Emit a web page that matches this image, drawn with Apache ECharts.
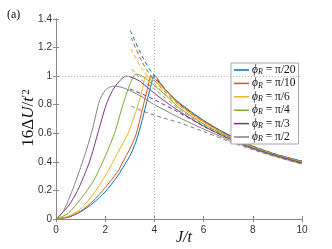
<!DOCTYPE html>
<html><head><meta charset="utf-8">
<script src="https://cdn.jsdelivr.net/npm/echarts@6/dist/echarts.min.js"></script>
<style>html,body{margin:0;padding:0;background:#fff}#c{width:332px;height:249px}</style>
</head><body><div id="c"></div>
<script>
// ---- data ----
const labels = ['π/20', 'π/10', 'π/6', 'π/4', 'π/3', 'π/2'];
const colors = ['#0072BD', '#D95319', '#EDB120', '#77AC30', '#7E2F8E', '#808080'];
const xTicks = [0, 2, 4, 6, 8, 10];
const yTicks = [0, 0.2, 0.4, 0.6, 0.8, 1, 1.2, 1.4];

// solid curves (J/t , 16ΔU/t'^2)
const blueX   = [0, 0.5, 1, 1.5, 2, 2.5, 2.86, 3, 3.25, 3.5, 3.75, 4.02, 4.25, 4.5, 5, 6, 7, 8, 9, 10];
const blueY   = [0, 0.012, 0.05, 0.11, 0.19, 0.30, 0.40, 0.44, 0.54, 0.69, 0.86, 1.005, 0.95, 0.895, 0.815, 0.69, 0.59, 0.51, 0.45, 0.405];
const orangeX = [0, 0.5, 1, 1.5, 2, 2.5, 2.72, 3, 3.25, 3.5, 3.7, 3.87, 4, 4.25, 4.5, 5, 6, 7, 8, 9, 10];
const orangeY = [0, 0.014, 0.055, 0.125, 0.22, 0.33, 0.40, 0.49, 0.59, 0.76, 0.90, 1.0, 0.985, 0.94, 0.895, 0.81, 0.685, 0.585, 0.507, 0.447, 0.402];
const yellowX = [0, 0.5, 1, 1.5, 2, 2.5, 2.93, 3.3, 3.5, 3.65, 3.8, 4, 4.5, 5, 6, 7, 8, 9, 10];
const yellowY = [0, 0.02, 0.07, 0.17, 0.30, 0.46, 0.60, 0.78, 0.90, 1.0, 0.99, 0.965, 0.89, 0.80, 0.68, 0.58, 0.505, 0.445, 0.40];
const greenX  = [0, 0.5, 1, 1.5, 1.9, 2.38, 2.72, 3, 3.25, 3.5, 3.75, 4, 4.5, 5, 6, 7, 8, 9, 10];
const greenY  = [0, 0.04, 0.14, 0.26, 0.40, 0.60, 0.80, 0.94, 1.015, 1.0, 0.97, 0.935, 0.86, 0.78, 0.665, 0.575, 0.5, 0.442, 0.397];
const purpleX = [0, 0.5, 0.88, 1.36, 1.7, 2.04, 2.3, 2.55, 2.85, 3.1, 3.4, 4, 4.5, 5, 6, 7, 8, 9, 10];
const purpleY = [0, 0.09, 0.2, 0.4, 0.6, 0.8, 0.9, 0.96, 1.0, 0.99, 0.965, 0.88, 0.815, 0.755, 0.65, 0.565, 0.495, 0.44, 0.392];
const grayX   = [0, 0.25, 0.5, 0.75, 1, 1.25, 1.5, 1.77, 2, 2.2, 2.4, 2.7, 3, 3.5, 4, 4.5, 5, 6, 7, 8, 9, 10];
const grayY   = [0, 0.04, 0.13, 0.24, 0.36, 0.49, 0.64, 0.83, 0.90, 0.925, 0.93, 0.92, 0.90, 0.855, 0.80, 0.755, 0.71, 0.63, 0.555, 0.49, 0.435, 0.385];

// dashed (approximate) curves
const blueDX   = [3.02, 3.5, 4, 5, 6, 7, 8, 9, 10];
const blueDY   = [1.32, 1.14, 1.0, 0.81, 0.685, 0.59, 0.51, 0.45, 0.405];
const orangeDX = [3.05, 3.5, 4, 5, 6, 7, 8, 9, 10];
const orangeDY = [1.27, 1.10, 0.97, 0.80, 0.68, 0.585, 0.507, 0.447, 0.402];
const yellowDX = [3.05, 3.5, 4, 5, 6, 7, 8, 9, 10];
const yellowDY = [1.19, 1.05, 0.945, 0.795, 0.677, 0.58, 0.505, 0.445, 0.40];
const greenDX  = [3.08, 3.5, 4, 5, 6, 7, 8, 9, 10];
const greenDY  = [1.05, 0.97, 0.91, 0.77, 0.66, 0.572, 0.5, 0.442, 0.397];
const purpleDX = [3.0, 3.5, 4, 5, 6, 7, 8, 9, 10];
const purpleDY = [0.91, 0.875, 0.835, 0.745, 0.65, 0.565, 0.495, 0.44, 0.392];
const grayDX   = [3.05, 3.5, 3.85, 4.5, 5, 6, 7, 8, 9, 10];
const grayDY   = [0.79, 0.758, 0.735, 0.70, 0.675, 0.612, 0.545, 0.485, 0.432, 0.385];

const solidX = [blueX, orangeX, yellowX, greenX, purpleX, grayX];
const solidY = [blueY, orangeY, yellowY, greenY, purpleY, grayY];
const dashX = [blueDX, orangeDX, yellowDX, greenDX, purpleDX, grayDX];
const dashY = [blueDY, orangeDY, yellowDY, greenDY, purpleDY, grayDY];

const zip = (xs, ys) => xs.map((x, i) => [x, ys[i]]);
const names = labels.map(l => 'ϕR = ' + l);

const series = [];
dashX.forEach((xs, k) => {
  series.push({
    name: 'dash' + k, type: 'line', data: zip(xs, dashY[k]), symbol: 'none', smooth: 0.3,
    lineStyle: { color: colors[k], width: 1, type: [4, 3] }, z: 2, silent: true
  });
});
solidX.forEach((xs, k) => {
  series.push({
    name: names[k], type: 'line', data: zip(xs, solidY[k]), symbol: 'none', smooth: 0.25,
    lineStyle: { color: colors[k], width: 1 }, itemStyle: { color: colors[k] }, z: 3
  });
});
series[0].markLine = {
  silent: true, symbol: 'none', label: { show: false },
  lineStyle: { color: '#b5b5b5', type: [1, 2], width: 1 },
  data: [{ xAxis: 4 }, { yAxis: 1 }]
};

const axisCommon = {
  axisLine: { show: true, lineStyle: { color: '#8a8a8a', width: 1 } },
  axisTick: { show: true, inside: true, length: 3, lineStyle: { color: '#8a8a8a' } },
  splitLine: { show: false }
};

const chart = echarts.init(document.getElementById('c'), null, { renderer: 'canvas' });
chart.setOption({
  animation: false,
  backgroundColor: '#fff',
  grid: { left: 56, right: 30, top: 19, bottom: 30 },
  xAxis: [
    Object.assign({ type: 'value', min: xTicks[0], max: xTicks[xTicks.length - 1], interval: 2, position: 'bottom',
      axisLabel: { color: '#333', fontSize: 10, fontFamily: 'Liberation Sans', margin: 6 } }, axisCommon),
    Object.assign({ type: 'value', min: 0, max: 10, interval: 2, position: 'top', axisLabel: { show: false } }, axisCommon)
  ],
  yAxis: [
    Object.assign({ type: 'value', min: yTicks[0], max: yTicks[yTicks.length - 1], interval: 0.2, position: 'left',
      axisLabel: { color: '#333', fontSize: 10, fontFamily: 'Liberation Sans', margin: 4 } }, axisCommon),
    Object.assign({ type: 'value', min: 0, max: 1.4, interval: 0.2, position: 'right', axisLabel: { show: false } }, axisCommon)
  ],
  legend: {
    data: names.map(n => ({ name: n, icon: 'rect' })),
    orient: 'vertical', left: 231, top: 63,
    itemWidth: 15, itemHeight: 1.5, itemGap: 1.4,
    padding: [1, 3, 1, 3],
    backgroundColor: '#fff', borderColor: '#a8a8a8', borderWidth: 1, borderRadius: 0,
    formatter: n => {
      const l = n.replace('ϕR = ', '');
      return '{p|ϕ}{s|R}{t| = ' + l + '}';
    },
    textStyle: {
      padding: [0, 0, 0, -2],
      rich: {
        p: { fontFamily: 'Liberation Serif', fontStyle: 'italic', fontSize: 11.5, color: '#111', lineHeight: 12 },
        s: { fontFamily: 'Liberation Serif', fontStyle: 'italic', fontSize: 8, color: '#111', verticalAlign: 'bottom', lineHeight: 9, padding: [4, 0, 0, 0] },
        t: { fontFamily: 'Liberation Serif', fontSize: 11.5, color: '#111', lineHeight: 12 }
      }
    }
  },
  graphic: [
    { type: 'text', left: 7, top: 9, style: { text: '(a)', font: '12px "Liberation Serif"', fill: '#111' } },
    { type: 'text', x: 29, y: 118, rotation: Math.PI / 2,
      style: { text: '{n|16Δ}{i|U}{n|/}{i|t}{s|′2}', align: 'center', verticalAlign: 'middle',
        rich: {
          n: { fontFamily: 'Liberation Serif', fontSize: 17, fill: '#111', color: '#111' },
          i: { fontFamily: 'Liberation Serif', fontStyle: 'italic', fontSize: 17, fill: '#111', color: '#111' },
          s: { fontFamily: 'Liberation Serif', fontSize: 11, fill: '#111', color: '#111', verticalAlign: 'top', padding: [0, 0, 6, 0] }
        } } },
    { type: 'text', x: 184, y: 238,
      style: { text: 'J/t', font: 'italic 16px "Liberation Serif"', fill: '#111', align: 'center', verticalAlign: 'middle' } }
  ],
  series: series
});
</script>
</body></html>
